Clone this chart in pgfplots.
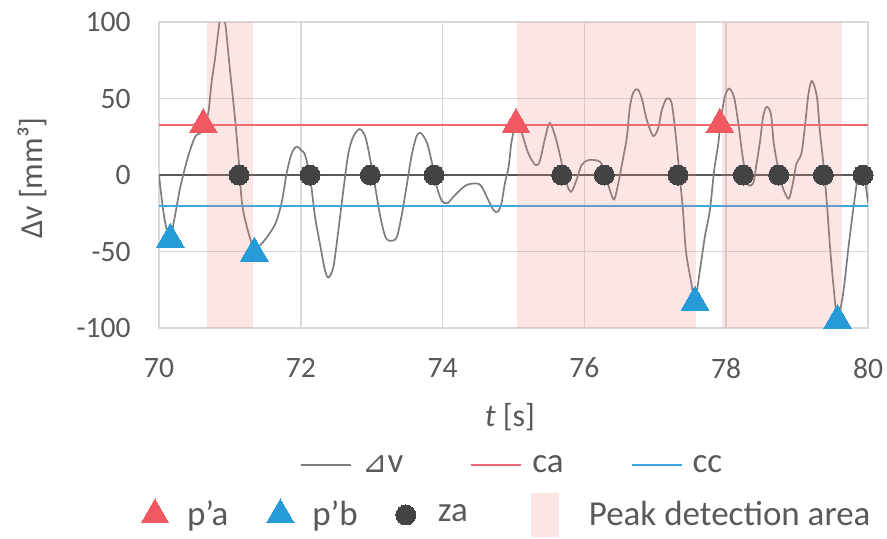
\documentclass[border=0pt]{standalone}
\usepackage{fontspec}
\setmainfont{Carlito}
\newfontfamily\symfont{DejaVu Sans}
\usepackage{pgfplots}
\pgfplotsset{compat=1.18}

\definecolor{txt}{RGB}{89,89,89}
\definecolor{gridc}{RGB}{217,217,217}
\definecolor{dvline}{RGB}{125,125,125}
\definecolor{caline}{RGB}{238,104,112}
\definecolor{ccline}{RGB}{64,166,222}
\definecolor{pa}{RGB}{240,88,98}
\definecolor{pb}{RGB}{38,155,215}
\definecolor{zac}{RGB}{67,67,67}
\definecolor{zeroc}{RGB}{89,89,89}
\definecolor{shade}{RGB}{237,125,125}

\pgfplotsset{
  base/.style={
    scale only axis, width=354.5pt, height=153pt,
    at={(0,0)}, anchor=south west,
    xmin=70, xmax=80, ymin=-100, ymax=100,
  },
  legtext/.style={font=\fontsize{17.5}{20}\selectfont, text=txt},
  lineleg/.style={legend image code/.code={\draw[##1] (0pt,0pt) -- (25pt,0pt); \path[draw=none] (0pt,0pt) -- (30.5pt,0pt);}},
  trialeg/.style={legend image code/.code={\draw[##1] plot coordinates {(0pt,0pt)}; \path[draw=none] (-7pt,0pt) -- (16pt,0pt);}},
  dotleg/.style={legend image code/.code={\draw[##1] plot coordinates {(0pt,0pt)}; \path[draw=none] (-5pt,0pt) -- (16pt,0pt);}},
  arealeg/.style={legend image code/.code={\fill[##1] (0pt,-11pt) rectangle (14pt,11pt); \path[draw=none, fill=none] (-12.5pt,0pt) -- (29pt,0pt);}},
}

\begin{document}
\begin{tikzpicture}
% ---- axis with grid, thresholds and the signal ----
\begin{axis}[base,
  axis line style={gridc, line width=0.75pt},
  grid=major, grid style={gridc, line width=0.75pt},
  major tick length=0pt, tick style={draw=none},
  xtick={70,72,...,80}, ytick={-100,-50,...,100},
  /pgf/number format/assume math mode=true,
  ticklabel style={font=\fontsize{14.8}{17}\selectfont, text=txt, inner sep=0pt},
  xticklabel style={anchor=center, yshift=-20pt},
  yticklabel style={anchor=east, xshift=-14pt},
  xlabel={\textit{t} [s]},
  ylabel={Δv [mm³]},
  label style={font=\fontsize{16}{19}\selectfont, text=txt},
  xlabel style={at={(axis description cs:0.495,-0.291)}, anchor=center},
  ylabel style={at={(axis description cs:-0.179,0.49)}, anchor=center},
  legend style={at={(axis description cs:0.497,-0.448)}, anchor=center,
    draw=none, fill=none, legtext, legend columns=3,
    nodes={inner sep=0pt},
    /tikz/every odd column/.append style={column sep=0pt},
    /tikz/every even column/.append style={column sep=33.5pt}},
  legend cell align=left,
  lineleg,
]
\addplot[zeroc, line width=1pt, forget plot] coordinates {(70,0) (80,0)};
\addplot[dvline, line width=0.85pt, smooth, tension=0.5] table {
x y
70.00 0
70.05 -20
70.10 -34
70.16 -41
70.22 -28
70.30 -8
70.41 12
70.51 25
70.60 28
70.66 35
70.70 42
70.74 60
70.79 76
70.84 95
70.89 110
70.94 97
71.00 69
71.07 38
71.12 12
71.17 -18
71.24 -34
71.34 -49
71.40 -47
71.50 -42
71.64 -32
71.73 -18
71.80 1
71.87 14
71.94 18.5
72.01 16
72.06 13
72.13 -1
72.20 -27
72.27 -45
72.34 -62
72.39 -67
72.46 -60
72.53 -36
72.60 -10
72.67 14
72.74 25
72.83 30
72.91 25
72.98 10
73.05 -8
73.12 -27
73.19 -40
73.25 -43
73.35 -41
73.42 -27
73.49 -8
73.56 12
73.63 25
73.69 27.5
73.78 21
73.85 8
73.92 -8
73.99 -17
74.06 -18.5
74.10 -17
74.22 -11
74.34 -6.5
74.48 -5.5
74.55 -7.5
74.64 -16
74.72 -23
74.78 -24
74.83 -18.5
74.88 -5
74.93 5
74.97 21
75.02 32
75.05 35
75.12 27
75.21 14
75.31 6.5
75.37 9
75.44 23
75.51 34
75.59 25
75.66 12
75.73 -3
75.81 -11
75.89 -3
75.96 6.5
76.06 9.8
76.22 8.7
76.29 1
76.36 -10
76.42 -16
76.48 -5
76.55 12
76.60 25
76.64 44
76.69 54
76.75 56
76.81 50
76.88 36
76.97 25.5
77.04 30.5
77.09 42
77.16 50
77.23 47
77.29 25
77.34 1
77.39 -23
77.43 -49
77.49 -66
77.56 -81
77.63 -62
77.70 -40
77.77 -23
77.83 3
77.89 21
77.92 35
77.98 51
78.04 56.5
78.11 51
78.17 34
78.22 16
78.27 1
78.31 -6.5
78.38 -5.5
78.42 5
78.48 23
78.52 38
78.57 44.5
78.63 40
78.67 21
78.72 7.5
78.78 -5.5
78.84 -13
78.89 -15
78.95 -3
78.99 7.5
79.06 14
79.11 31.5
79.16 53
79.21 61.5
79.28 51
79.32 29
79.37 7.5
79.42 -18.5
79.46 -44.5
79.51 -71
79.57 -94
79.65 -77
79.72 -49
79.79 -23
79.86 -1
79.93 3
80.00 -18
};
\addlegendentry{{\symfont\fontsize{15}{18}\selectfont ⊿}v}
\addplot[caline, line width=1pt] coordinates {(70,33) (80,33)};
\addlegendentry{ca}
\addplot[ccline, line width=1pt] coordinates {(70,-20) (80,-20)};
\addlegendentry{cc}
\end{axis}

% ---- detected points and detection windows ----
\begin{axis}[base, hide axis,
  legend style={at={(axis description cs:0.489,-0.611)}, anchor=center,
    draw=none, fill=none, legtext, legend columns=4,
    nodes={inner sep=0pt},
    /tikz/every odd column/.append style={column sep=0pt},
    /tikz/every even column/.append style={column sep=19pt}},
  legend cell align=left,
]
\addplot[color=pa, only marks, mark=triangle*, mark size=8pt,
  mark options={fill=pa, draw=pa, line width=0pt}, trialeg]
  coordinates {(70.625,33) (75.035,33) (77.91,33)};
\addlegendentry{p’a}
\addplot[color=pb, only marks, mark=triangle*, mark size=8pt,
  mark options={fill=pb, draw=pb, line width=0pt}, trialeg]
  coordinates {(70.16,-42) (71.345,-51) (77.56,-83) (79.57,-95)};
\addlegendentry{p’b}
\addplot[color=zac, only marks, mark=*, mark size=5pt,
  mark options={fill=zac, draw=zac, line width=0pt}, dotleg]
  coordinates {(71.13,0) (72.13,0) (72.98,0) (73.88,0) (75.68,0) (76.28,0)
               (77.32,0) (78.24,0) (78.74,0) (79.37,0) (79.93,0)};
\addlegendentry{za}
\addplot[fill=shade, fill opacity=0.2, draw=none, arealeg]
  coordinates {(70.67,-100) (70.67,100) (71.32,100) (71.32,-100)} -- cycle;
\addlegendentry{Peak detection area}
\addplot[fill=shade, fill opacity=0.2, draw=none, forget plot]
  coordinates {(75.05,-100) (75.05,100) (77.58,100) (77.58,-100)} -- cycle;
\addplot[fill=shade, fill opacity=0.2, draw=none, forget plot]
  coordinates {(77.94,-100) (77.94,100) (79.64,100) (79.64,-100)} -- cycle;
\end{axis}
\pgfresetboundingbox
\path[use as bounding box] (-79.5pt,-105pt) rectangle (364pt,164pt);
\end{tikzpicture}
\end{document}
